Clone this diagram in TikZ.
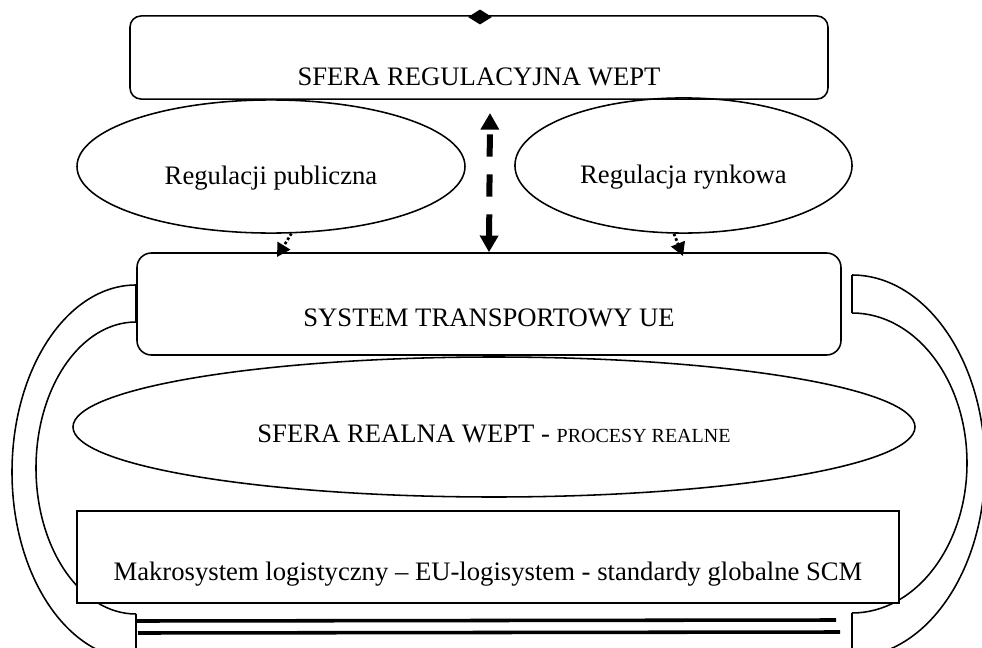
\documentclass[tikz,border=0pt]{standalone}
\usepackage{fontspec}
\setmainfont{Liberation Serif}
\usetikzlibrary{shapes.geometric,arrows.meta,positioning}

\begin{document}
\begin{tikzpicture}[
    x=0.45pt, y=-0.45pt,
    line width=0.7pt,
    rblock/.style={rectangle, draw, rounded corners=5pt, inner sep=0pt, font=\fontsize{12}{14}\selectfont},
    sblock/.style={rectangle, draw, fill=white, inner sep=0pt, font=\fontsize{12}{14}\selectfont},
    eblock/.style={ellipse, draw, inner sep=0pt, font=\fontsize{12}{14}\selectfont},
    dasharr/.style={{Triangle[length=7.5pt,width=8pt]}-{Triangle[length=7.5pt,width=8pt]}, line width=2.7pt, dash pattern=on 10pt off 8pt},
    dotarr/.style={-{Triangle[length=6pt,width=6.5pt]}, line width=1.2pt, densely dotted},
    dbl/.style={line width=1.6pt},
    tipmark/.style={diamond, fill, inner sep=0pt, minimum width=11pt, minimum height=7pt}
]
\useasboundingbox (0,0) rectangle (982,648);
\clip (0,0) rectangle (982,648);

% side loops
\draw (136,285) arc[start angle=-90, end angle=-270, x radius=124, y radius=187];
\draw (136,322) arc[start angle=-90, end angle=-270, x radius=100, y radius=146];
\draw (136,285) -- (136,322);
\draw (136,614) -- (136,659);
\draw (852,275) arc[start angle=-90, end angle=90, x radius=133, y radius=191];
\draw (852,313) arc[start angle=-90, end angle=90, x radius=115, y radius=150];
\draw (852,275) -- (852,313);
\draw (852,613) -- (852,657);

% regulation
\node[rblock, minimum width=314.1pt, minimum height=37.4pt, text height=25.6pt, text depth=0pt] (reg) at (479,57.5) {SFERA REGULACYJNA WEPT};
\node[tipmark] (top) at (480,17) {};
\node[eblock, minimum width=174.6pt, minimum height=59.9pt, text height=15.8pt, text depth=0pt] (pub) at (271,166.5) {Regulacji publiczna};
\node[eblock, minimum width=151.7pt, minimum height=60.8pt, text height=15.8pt, text depth=0pt] (ryn) at (683.5,165.5) {Regulacja rynkowa};

% transport system
\node[rblock, rounded corners=6.5pt, minimum width=316.8pt, minimum height=45.9pt, text height=19.8pt, text depth=0pt] (sys) at (489,304) {SYSTEM TRANSPORTOWY UE};
\node[eblock, minimum width=378.9pt, minimum height=63pt, text height=14.1pt, text depth=0pt] (real) at (494,427) {SFERA REALNA WEPT - {\fontsize{9}{11}\selectfont PROCESY REALNE}};
\node[sblock, minimum width=369.9pt, minimum height=41.4pt, text height=20.7pt, text depth=0pt] (makro) at (488,557) {Makrosystem logistyczny – EU-logisystem - standardy globalne SCM};

% arrows
\coordinate (dtop) at (490,113);
\coordinate (pubin) at (277,257);
\coordinate (rynin) at (683,256);
\draw[dasharr] (sys.north) -- (dtop);
\draw[dotarr] (pub.-73) -- (pubin);
\draw[dotarr] (ryn.-98) -- (rynin);

% base lines
\draw[dbl] (137,621) -- (836,620);
\draw[dbl] (138,633) -- (840,632);

\end{tikzpicture}
\end{document}
